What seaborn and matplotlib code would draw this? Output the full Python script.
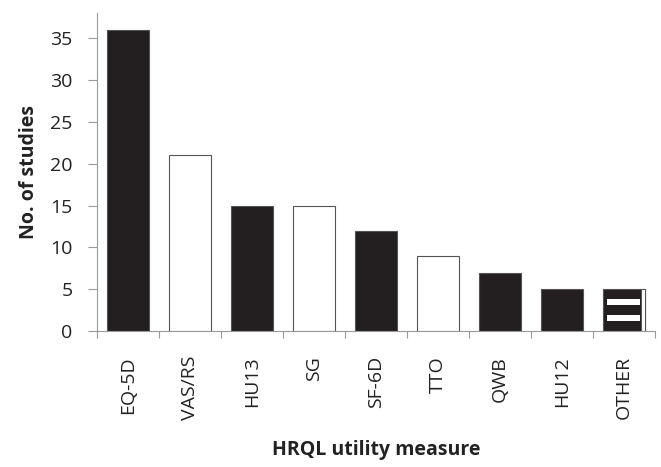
import seaborn as sns
import matplotlib.pyplot as plt
from matplotlib.patches import Rectangle
import pandas as pd

# data
measures = ["EQ-5D", "VAS/RS", "HU13", "SG", "SF-6D", "TTO", "QWB", "HU12", "OTHER"]
n_studies = [36, 21, 15, 15, 12, 9, 7, 5, 5]
fills = ["#231f20", "white", "#231f20", "white", "#231f20", "white", "#231f20", "#231f20", "#231f20"]

df = pd.DataFrame({"measure": measures, "n": n_studies})

sns.set_style("white")
plt.rcParams['font.family'] = ['Open Sans', 'DejaVu Sans']

fig = plt.figure(figsize=(6.61, 4.67), dpi=100)
ax = fig.add_axes([0.1467, 0.291, 0.8443, 0.681])

sns.barplot(data=df, x="measure", y="n", hue="measure", palette=fills,
            legend=False, width=0.69, edgecolor="#555555", linewidth=0.8,
            saturation=1, ax=ax)

# striped "OTHER" bar: two white bands + white strip at right edge
p = ax.patches[-1]
x0, w, h = p.get_x(), p.get_width(), p.get_height()
for yc in (0.31, 0.69):
    ax.add_patch(Rectangle((x0 + 0.09 * w, h * yc - 0.35), 0.78 * w, 0.7,
                           facecolor="white", edgecolor="none", zorder=3))
ax.add_patch(Rectangle((x0 + 0.9 * w, 0), 0.1 * w, h,
                       facecolor="white", edgecolor="#555555", linewidth=0.8, zorder=3))

ax.set_xlim(-0.5, 8.5)
ax.set_ylim(0, 38)
ax.set_yticks(range(0, 36, 5))

for s in ["top", "right"]:
    ax.spines[s].set_visible(False)
for s in ["left", "bottom"]:
    ax.spines[s].set_color("#9a9a9a")
    ax.spines[s].set_linewidth(0.8)

ax.tick_params(axis="y", left=True, length=6.5, width=0.8, color="#9a9a9a",
               pad=11, labelsize=14, labelcolor="#222222")
ax.set_xticks([i + 0.5 for i in range(-1, 9)], minor=True)
ax.tick_params(axis="x", which="minor", bottom=True, length=5, width=0.8, color="#9a9a9a")
ax.tick_params(axis="x", which="major", bottom=False, length=0, pad=18,
               labelsize=14, labelcolor="#222222")
plt.setp(ax.get_xticklabels(), rotation=90)

ax.set_ylabel("No. of studies", fontsize=14, fontweight="bold", labelpad=8, color="#222222")
ax.set_xlabel("HRQL utility measure", fontsize=14, fontweight="bold", labelpad=14, color="#222222")

fig.savefig("out.png", dpi=100)
